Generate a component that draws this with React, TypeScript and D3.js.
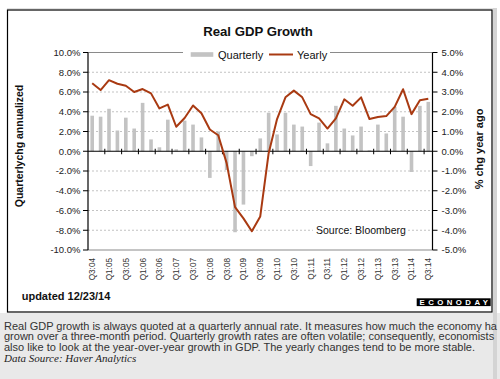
import React from "react";
import * as d3 from "d3";

const quarters = [
  "Q3:04","Q4:04","Q1:05","Q2:05","Q3:05","Q4:05","Q1:06","Q2:06","Q3:06","Q4:06",
  "Q1:07","Q2:07","Q3:07","Q4:07","Q1:08","Q2:08","Q3:08","Q4:08","Q1:09","Q2:09",
  "Q3:09","Q4:09","Q1:10","Q2:10","Q3:10","Q4:10","Q1:11","Q2:11","Q3:11","Q4:11",
  "Q1:12","Q2:12","Q3:12","Q4:12","Q1:13","Q2:13","Q3:13","Q4:13","Q1:14","Q2:14","Q3:14",
];

const quarterly = [
  3.6, 3.5, 4.3, 2.1, 3.4, 2.3, 4.9, 1.2, 0.4, 3.2,
  0.2, 3.1, 2.7, 1.4, -2.7, 2.0, -1.9, -8.2, -5.4, -0.5,
  1.3, 3.9, 1.7, 3.9, 2.7, 2.5, -1.5, 2.9, 0.8, 4.6,
  2.3, 1.6, 2.5, 0.1, 2.7, 1.8, 4.5, 3.5, -2.1, 4.6, 5.0,
];

const yearly = [
  3.44, 3.1, 3.6, 3.42, 3.32, 3.0, 3.15, 2.93, 2.17, 2.36,
  1.24, 1.68, 2.32, 1.92, 1.1, 0.81, -0.6, -2.83, -3.4, -4.05,
  -3.3, -0.1, 1.63, 2.73, 3.07, 2.73, 1.88, 1.66, 1.15, 1.66,
  2.63, 2.3, 2.73, 1.63, 1.73, 1.78, 2.25, 3.14, 1.88, 2.58, 2.66,
];

const leftTicks = [10, 8, 6, 4, 2, 0, -2, -4, -6, -8, -10];
const rightTicks = [5, 4, 3, 2, 1, 0, -1, -2, -3, -4, -5];
const xTickLabels = quarters.filter((_, i) => i % 2 === 0);

const noteLines = [
  "Real GDP growth is always quoted at a quarterly annual rate. It measures how much the economy ha",
  "grown over a three-month period. Quarterly growth rates are often volatile; consequently, economists",
  "also like to look at the year-over-year growth in GDP. The yearly changes tend to be more stable.",
];

export default function App() {
  const W = 500, H = 379;
  const x0 = 88, x1 = 432.5, yTop = 52.5, yBot = 250;
  const font = "'Liberation Sans', Arial, Helvetica, sans-serif";

  const x = d3.scaleBand<string>().domain(quarters).range([x0, x1]).padding(0);
  const yL = d3.scaleLinear().domain([-10, 10]).range([yBot, yTop]);
  const yR = d3.scaleLinear().domain([-5, 5]).range([yBot, yTop]);
  const bw = x.bandwidth();
  const cx = (q: string) => (x(q) as number) + bw / 2;
  const barW = 3.6;

  const line = d3
    .line<number>()
    .x((_, i) => cx(quarters[i]))
    .y((d) => yR(d));

  const zeroY = yL(0);
  const boundaryTicks = d3.range(1, Math.floor(quarters.length / 2) + 1).map((i) => x0 + 2 * i * bw);

  return (
    <svg width={W} height={H} style={{ position: "absolute", left: 0, top: 0 }} fontFamily={font}>
      <rect x={0} y={0} width={W} height={H} fill="#ffffff" />
      {/* bottom note area */}
      <rect x={0} y={313} width={W} height={H - 313} fill="#e9e9e9" />
      <rect x={493} y={8} width={4} height={H - 8} fill="#d4d4d4" />
      <line x1={7} y1={8.5} x2={493} y2={8.5} stroke="#e2e2e2" />
      {/* frame */}
      <rect x={7.5} y={10} width={484.5} height={302} fill="#ffffff" stroke="#000" strokeWidth={1.2} />

      {/* title */}
      <text x={258} y={36} textAnchor="middle" fontSize={13.2} fontWeight="bold" fill="#111">Real GDP Growth</text>

      {/* gridlines */}
      {leftTicks.filter((t) => t !== 0 && Math.abs(t) !== 10).map((t) => (
        <line key={"g" + t} x1={x0} x2={x1} y1={yL(t)} y2={yL(t)} stroke="#b4b4b4" strokeDasharray="2,2" strokeWidth={0.8} />
      ))}
      <line x1={x0} x2={x1} y1={yL(10)} y2={yL(10)} stroke="#8a8a8a" strokeWidth={1} />
      <line x1={x0} x2={x1} y1={yL(-10)} y2={yL(-10)} stroke="#8a8a8a" strokeWidth={1} />

      {/* bars */}
      {quarterly.map((v, i) => (
        <rect
          key={"b" + i}
          x={cx(quarters[i]) - barW / 2}
          y={Math.min(yL(v), zeroY)}
          width={barW}
          height={Math.abs(yL(v) - zeroY)}
          fill="#c3c3c3"
        />
      ))}

      {/* zero axis */}
      <line x1={x0} x2={x1} y1={zeroY} y2={zeroY} stroke="#000" strokeWidth={1.2} />
      {boundaryTicks.map((bx, i) => (
        <line key={"xt" + i} x1={bx} x2={bx} y1={zeroY - 2.5} y2={zeroY + 3} stroke="#000" strokeWidth={1} />
      ))}

      {/* yearly line */}
      <path d={line(yearly) || ""} fill="none" stroke="#a93a12" strokeWidth={2} strokeLinejoin="round" />

      {/* left axis */}
      <line x1={x0} x2={x0} y1={yTop} y2={yBot} stroke="#000" strokeWidth={1.2} />
      {leftTicks.map((t) => (
        <g key={"l" + t}>
          <line x1={x0 - 5} x2={x0} y1={yL(t)} y2={yL(t)} stroke="#000" />
          <text x={80.5} y={yL(t)} dy="0.35em" textAnchor="end" fontSize={9.5} fill="#222">{t.toFixed(1) + "%"}</text>
        </g>
      ))}
      {/* right axis */}
      <line x1={x1} x2={x1} y1={yTop} y2={yBot} stroke="#000" strokeWidth={1.2} />
      {rightTicks.map((t) => (
        <g key={"r" + t}>
          <line x1={x1} x2={x1 + 5} y1={yR(t)} y2={yR(t)} stroke="#000" />
          <text x={441.5} y={yR(t)} dy="0.35em" textAnchor="start" fontSize={9.5} fill="#222">{t.toFixed(1) + "%"}</text>
        </g>
      ))}

      {/* axis titles */}
      <text transform={`translate(23,146) rotate(-90)`} textAnchor="middle" fontSize={10.5} fontWeight="bold" fill="#111">Quarterlychg annualized</text>
      <text transform={`translate(483,149) rotate(-90)`} textAnchor="middle" fontSize={11} fontWeight="bold" fill="#111">% chg year ago</text>

      {/* x labels */}
      {xTickLabels.map((q) => (
        <text
          key={"xl" + q}
          transform={`translate(${cx(q) + 3},258) rotate(-90)`}
          textAnchor="end"
          fontSize={8.2}
          fill="#333"
        >{q}</text>
      ))}

      {/* legend */}
      <rect x={183} y={47} width={147} height={13} fill="#ffffff" />
      <rect x={190.7} y={52.2} width={22.6} height={4.6} fill="#c3c3c3" />
      <text x={218} y={58.5} fontSize={11} fill="#111">Quarterly</text>
      <line x1={269} x2={293} y1={54.5} y2={54.5} stroke="#a93a12" strokeWidth={2} />
      <text x={297} y={58.5} fontSize={11} fill="#111">Yearly</text>

      {/* source */}
      <rect x={313} y={224} width={95} height={13} fill="#ffffff" />
      <text x={316} y={234} fontSize={10.5} fill="#111">Source: Bloomberg</text>

      {/* updated */}
      <text x={21.7} y={300} fontSize={11} fontWeight="bold" fill="#111">updated 12/23/14</text>

      {/* logo */}
      <rect x={416.7} y={298.3} width={74} height={7.8} fill="#000" />
      <text x={419.5} y={305} fontSize={7.8} fontWeight="bold" fill="#fff" textLength={68.5} lengthAdjust="spacing">ECONODAY</text>

      {/* notes */}
      {noteLines.map((s, i) => (
        <text
          key={"n" + i}
          x={4}
          y={329.5 + i * 10.6}
          fontSize={11}
          fill="#333"
          textLength={i === 0 ? 493 : undefined}
          lengthAdjust={i === 0 ? "spacingAndGlyphs" : undefined}
        >{s}</text>
      ))}
      <text x={4} y={361.5} fontSize={11} fontStyle="italic" fontFamily="'Liberation Serif', 'Times New Roman', serif" fill="#222">Data Source: Haver Analytics</text>
    </svg>
  );
}
